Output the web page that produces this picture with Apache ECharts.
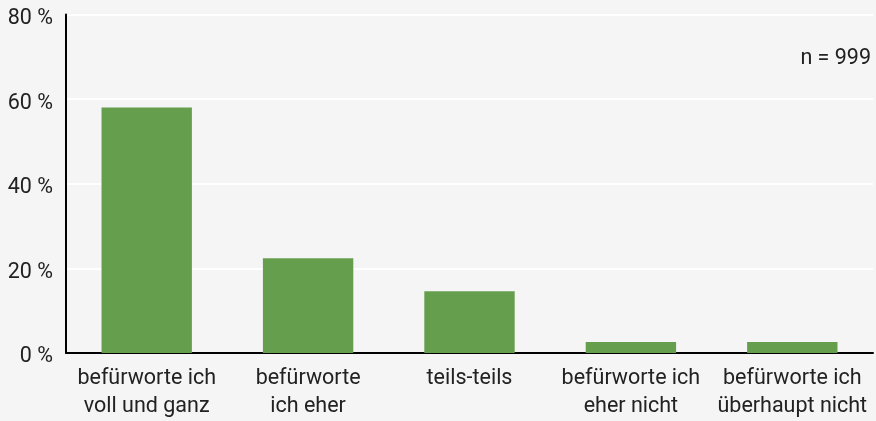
<!DOCTYPE html>
<html><head><meta charset="utf-8">
<script src="https://cdn.jsdelivr.net/npm/echarts@6/dist/echarts.min.js"></script>
<style>html,body{margin:0;padding:0;background:#f5f5f5;}#c{width:876px;height:421px;}</style>
</head><body><div id="c"></div>
<script>
const categories = ["befürworte ich\nvoll und ganz", "befürworte\nich eher", "teils-teils", "befürworte ich\neher nicht", "befürworte ich\nüberhaupt nicht"];
const values = [58, 22.4, 14.6, 2.6, 2.6];
const yTicks = [0, 20, 40, 60, 80];
const sampleNote = "n = 999";

const chart = echarts.init(document.getElementById('c'), null, {renderer: 'canvas'});
chart.setOption({
  backgroundColor: '#f5f5f5',
  animation: false,
  textStyle: {fontFamily: 'Roboto'},
  grid: {left: 66, right: 3, top: 14.5, bottom: 67, containLabel: false},
  xAxis: {
    type: 'category', data: categories,
    axisLine: {lineStyle: {color: '#000', width: 2}},
    axisTick: {show: false},
    axisLabel: {color: '#222', fontSize: 21.5, lineHeight: 28, margin: 12, interval: 0, fontFamily: 'Roboto'}
  },
  yAxis: {
    type: 'value', min: yTicks[0], max: yTicks[yTicks.length-1], interval: 20,
    axisLine: {show: true, lineStyle: {color: '#000', width: 2}},
    axisTick: {show: false},
    splitLine: {lineStyle: {color: '#fff', width: 2}},
    axisLabel: {color: '#222', fontSize: 21.5, margin: 13, verticalAlign: 'top', lineHeight: 8, formatter: v => v + ' %', fontFamily: 'Roboto'}
  },
  series: [{
    type: 'bar', data: values, barWidth: '56%',
    itemStyle: {color: '#659f4e'}
  }],
  graphic: [{
    type: 'text', x: 871, y: 59,
    style: {text: sampleNote, fontSize: 21.5, fill: '#222', fontFamily: 'Roboto', align: 'right', verticalAlign: 'middle'}
  }]
});
</script></body></html>
